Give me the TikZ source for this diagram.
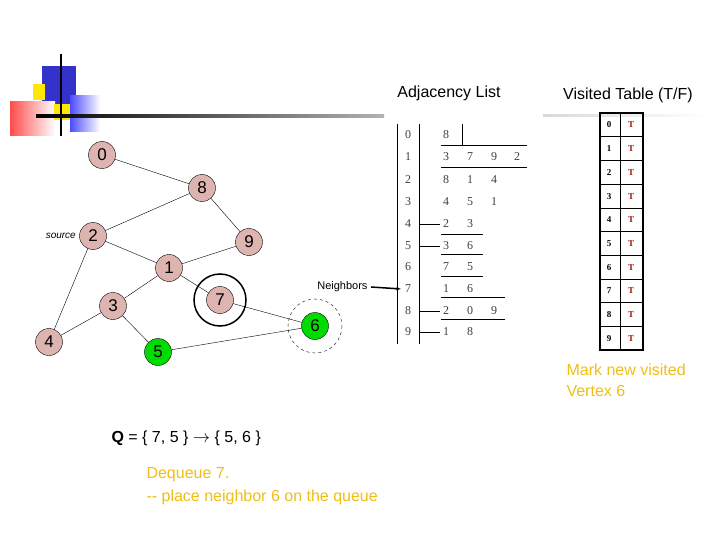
\documentclass[tikz,border=0pt]{standalone}
\usepackage{fontspec}
\setmainfont{Liberation Sans}
\newfontfamily\tabfont{Liberation Serif}
\usetikzlibrary{positioning, arrows.meta}
\definecolor{vtx}{RGB}{222,180,176}
\definecolor{hot}{RGB}{0,220,0}
\definecolor{note}{RGB}{240,190,20}
\definecolor{tee}{RGB}{150,20,20}
\begin{document}
\begin{tikzpicture}[x=1pt,y=-1pt,
  main/.style = {draw, circle, fill=vtx, minimum size=27pt, inner sep=0pt, font=\fontsize{17}{17}\selectfont},
  done/.style = {main, fill=hot},
  idx/.style = {font=\tabfont\fontsize{12}{12}\selectfont, text=black!75},
  cell/.style = {font=\tabfont\fontsize{9}{9}\selectfont\bfseries}]
\useasboundingbox (0,0) rectangle (720,540);
% logo
\fill[blue!75!black!80] (42,66) rectangle (76,104);
\fill[yellow!90!orange] (33,84) rectangle (45,100);
\shade[left color=red!70, right color=white] (10,102) rectangle (55,136);
\fill[yellow!90!orange] (54,104) rectangle (70,120);
\shade[left color=blue!70, right color=white] (70,96) rectangle (100,132);
\draw[line width=2pt] (61,54) -- (61,136);
\shade[left color=black, right color=black!30] (36,115) rectangle (384,118);
\shade[left color=black!15, right color=white] (543,115) rectangle (710,117);
% graph
\node[main] (0) at (102,155) {0};
\node[main] (8) at (202,188) {8};
\node[main] (2) at (93,236) {2};
\node[main] (9) at (249,242) {9};
\node[main] (1) at (169,268) {1};
\node[main] (7) at (220,300) {7};
\node[main] (3) at (113,306) {3};
\node[main] (4) at (49,342) {4};
\node[done] (5) at (158,352) {5};
\node[done] (6) at (315,326) {6};
\node[left=0pt of 2, font=\fontsize{10}{10}\selectfont\itshape] (src) {source};
\draw[line width=1.5pt] (7) circle (26);
\draw[dashed] (6) circle (27);
\draw (0) -- (8);
\draw (8) -- (2);
\draw (8) -- (9);
\draw (2) -- (1);
\draw (9) -- (1);
\draw (2) -- (4);
\draw (1) -- (7);
\draw (1) -- (3);
\draw (3) -- (4);
\draw (3) -- (5);
\draw (7) -- (6);
\draw (5) -- (6);
% titles
\node (adj) at (449,93) {\fontsize{16}{16}\selectfont Adjacency List};
\node (vis) at (628,95) {\fontsize{16}{16}\selectfont Visited Table (T/F)};
% adjacency list
\draw (397,124) -- (397,344);
\draw (419,124) -- (419,344);
\foreach \i/\y/\a/\b/\c/\d in {0/135/8///, 1/157/3/7/9/2, 2/180/8/1/4/, 3/202/4/5/1/,
  4/224/2/3//, 5/246/3/6//, 6/267/7/5//, 7/289/1/6//, 8/311/2/0/9/, 9/332/1/8//} {
  \node[idx] (r\i) at (408,\y) {\i};
  \node[idx] at (446,\y) {\a};
  \node[idx] at (470,\y) {\b};
  \node[idx] at (494,\y) {\c};
  \node[idx] at (517,\y) {\d};
}
\draw (462,124) -- (462,145);
\draw (441,145) -- (527,145);
\draw (441,167) -- (527,167);
\draw (441,234) -- (483,234);
\draw (441,254) -- (483,254);
\draw (441,276) -- (483,276);
\draw (441,297) -- (505,297);
\draw (441,319) -- (505,319);
\foreach \y in {224,246,311,332} \draw (419,\y) -- (440,\y);
\node[font=\fontsize{11}{11}\selectfont, anchor=east] (nb) at (371,287) {Neighbors};
\draw[line width=1.5pt, -{Latex[length=5pt]}] (nb.east) -- (r7.west);
% visited table
\draw[line width=1.2pt] (600,113) rectangle (643,350);
\draw (620,113) -- (620,350);
\foreach \i in {0,...,9} {
  \pgfmathsetmacro\yy{113+23.7*\i}
  \draw (600,\yy) -- (643,\yy);
  \node[cell] (v\i) at (609,\yy+12) {\i};
  \node[cell, text=tee] (t\i) at (631,\yy+12) {T};
}
% notes
\node[anchor=west, align=left, text=note, font=\fontsize{16}{21}\selectfont] (mark) at (563,380) {Mark new visited\\Vertex 6};
\node[anchor=west, font=\fontsize{16}{16}\selectfont] (q) at (108,438) {\textbf{Q} = \{ 7, 5 \} $\rightarrow$ \{ 5, 6 \}};
\node[anchor=west, align=left, text=note, font=\fontsize{16}{23}\selectfont] (deq) at (143,486) {Dequeue 7.\\ -{}- place neighbor 6 on the queue};
\end{tikzpicture}
\end{document}
